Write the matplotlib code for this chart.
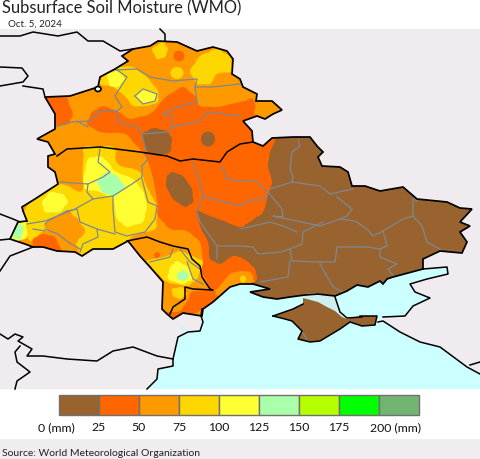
# -*- coding: utf-8 -*-
"""Subsurface soil moisture map, traced in image pixels"""

import matplotlib
matplotlib.use('Agg')
import matplotlib.pyplot as plt
from matplotlib.patches import PathPatch, Polygon, Ellipse, Rectangle
from matplotlib.path import Path

BROWN = '#99632F'
RED = '#FF6600'
ORANGE = '#FF9900'
GOLD = '#FFD700'
YELLOW = '#FFFF33'
PALE = '#AAFFAA'
LIME = '#B5FF00'
GREEN = '#00FF00'
DULL = '#72B572'
LAND = '#EFEBEF'
SEA = '#CCFFFF'
GRAY = '#7F8890'

# colour bar
bar_colors = [BROWN, RED, ORANGE, GOLD, YELLOW, PALE, LIME, GREEN, DULL]
bar_labels = ['25', '50', '75', '100', '125', '150', '175']

# country outline (Belarus, Ukraine, Moldova)
region = [(45, 98), (70, 97), (98, 88), (100, 78), (115, 70), (128, 62), (122, 57), (133, 50),
          (150, 47), (158, 42), (177, 43), (197, 52), (213, 48), (227, 52), (233, 60), (232, 75),
          (240, 80), (243, 88), (257, 95), (256, 102), (272, 102), (282, 111), (273, 115), (265, 120),
          (257, 117), (243, 122), (252, 132), (253, 143), (263, 147), (272, 139), (293, 138), (310, 138),
          (317, 147), (323, 153), (318, 158), (322, 167), (340, 168), (348, 173), (352, 187), (365, 187),
          (380, 192), (403, 188), (417, 200), (447, 203), (460, 209), (472, 210), (460, 223), (470, 227),
          (460, 233), (467, 243), (462, 254), (440, 252), (423, 260), (423, 270), (393, 278), (387, 280),
          (383, 285), (380, 282), (368, 288), (357, 286), (347, 292), (335, 297), (318, 295), (305, 296),
          (290, 298), (277, 300), (263, 298), (250, 293), (270, 290), (253, 285), (240, 285), (230, 288),
          (213, 303), (203, 310), (202, 317), (183, 314), (173, 320), (167, 315), (162, 310), (163, 283),
          (150, 268), (140, 257), (128, 242), (113, 250), (93, 250), (82, 257), (75, 253), (57, 252),
          (43, 248), (33, 248), (25, 245), (10, 240), (18, 223), (27, 222), (23, 212), (22, 208),
          (35, 200), (58, 185), (55, 173), (48, 168), (48, 157), (55, 155), (48, 143), (37, 140),
          (55, 130), (55, 115)]
crimea = [(273, 317), (293, 310), (303, 305), (303, 299), (318, 303), (327, 308), (335, 312), (342, 318),
          (347, 320), (360, 317), (377, 317), (375, 326), (362, 327), (350, 323), (340, 330), (320, 342),
          (310, 343), (298, 340), (302, 332), (292, 322), (285, 320)]
syvash = [(305, 295), (318, 294), (335, 298), (340, 313), (347, 320), (342, 318), (327, 308), (318, 303), (303, 299)]
sea = [(147, 390), (157, 380), (158, 370), (173, 367), (173, 360), (178, 338), (188, 333), (200, 332),
       (203, 323), (201, 317), (203, 310), (213, 303), (230, 288), (240, 285), (253, 285), (270, 290),
       (250, 293), (263, 298), (277, 300), (290, 298), (305, 296), (318, 295), (335, 297), (347, 292),
       (357, 286), (368, 288), (380, 282), (383, 285), (387, 280), (393, 278), (423, 270), (447, 268),
       (448, 275), (427, 280), (410, 285), (415, 293), (430, 299), (413, 307), (405, 317), (383, 318),
       (378, 323), (383, 322), (400, 333), (420, 343), (440, 348), (467, 368), (480, 375), (480, 390)]

# moisture areas, painted in this order over the orange base
red_main = [(87, 125), (92, 113), (103, 107), (117, 112), (130, 120), (150, 115), (167, 97), (183, 88),
            (195, 97), (200, 107), (217, 108), (240, 103), (253, 100), (258, 118), (300, 118), (300, 310),
            (257, 284), (250, 273), (240, 272), (230, 275), (217, 290), (212, 292), (200, 270), (203, 262),
            (200, 243), (187, 232), (170, 230), (158, 217), (157, 200), (152, 175), (147, 160), (140, 150),
            (125, 135), (100, 133)]
red_west = [(45, 96), (65, 96), (73, 115), (68, 125), (55, 126), (53, 113)]
red_budjak = [(192, 293), (213, 290), (218, 300), (200, 312), (187, 318), (175, 324), (166, 314), (180, 312), (187, 303)]
gold_west = [(27, 207), (43, 190), (60, 185), (82, 192), (83, 163), (85, 148), (113, 148), (118, 165),
             (140, 173), (148, 190), (157, 207), (157, 217), (155, 230), (133, 237), (125, 246), (113, 254),
             (93, 254), (80, 260), (77, 247), (63, 238), (45, 232), (30, 242), (22, 220)]
orange_sw = [(45, 225), (67, 212), (78, 220), (85, 233), (72, 247), (50, 235)]
red_sw = [(33, 240), (43, 235), (55, 238), (61, 252), (43, 250), (33, 250)]
yellow_sw = [(12, 222), (25, 220), (27, 238), (12, 244)]
pale_sw = [(10, 237), (18, 225), (24, 228), (20, 240)]
yellow_west = [(42, 203), (50, 193), (63, 195), (68, 203), (60, 213), (45, 213)]
yellow_center = [(83, 180), (88, 160), (100, 157), (108, 163), (115, 172), (133, 180), (143, 192), (147, 207),
                 (143, 223), (127, 228), (117, 220), (113, 200), (100, 193), (85, 190)]
pale_center = [(97, 182), (107, 173), (117, 177), (125, 188), (115, 197), (102, 193)]
gold_top = [(152, 50), (163, 43), (168, 50), (165, 58), (157, 60)]
gold_right = [(190, 72), (200, 57), (217, 50), (230, 58), (232, 72), (217, 75), (210, 85), (197, 85)]
gold_left = [(103, 75), (115, 68), (133, 68), (147, 78), (158, 92), (158, 103), (147, 107), (133, 107),
             (125, 97), (113, 88), (100, 85)]
yellow_left = [(107, 75), (118, 72), (125, 80), (118, 88), (110, 87)]
yellow_loop = [(135, 97), (143, 90), (157, 95), (155, 102), (143, 105)]
gold_moldova = [(147, 262), (167, 257), (180, 252), (193, 257), (203, 263), (197, 280), (187, 287), (167, 283), (153, 270)]
gold_low = [(172, 290), (182, 288), (187, 295), (180, 300), (173, 297)]
yellow_moldova = [(170, 268), (177, 262), (188, 268), (193, 280), (182, 285), (168, 280)]
pale_moldova = [(177, 275), (183, 271), (189, 276), (185, 282), (178, 280)]
brown_belarus = [(142, 135), (153, 129), (167, 132), (172, 140), (170, 153), (157, 157), (148, 153), (143, 143)]
brown_oval = [(172, 173), (183, 177), (192, 190), (193, 203), (185, 208), (173, 200), (166, 187), (167, 177)]
brown_east = [(277, 138), (270, 153), (268, 167), (272, 183), (270, 190), (263, 213), (250, 223), (240, 228),
              (213, 218), (197, 212), (200, 227), (208, 243), (210, 260), (220, 265), (233, 257), (240, 258),
              (247, 262), (255, 270), (257, 280), (250, 287), (250, 320), (480, 320), (480, 130), (290, 130)]

# small round patches: centre x, centre y, width, height
dot_x = [179, 177, 208, 157, 243]
dot_y = [57, 74, 140, 256, 280]
dot_w = [11, 13, 14, 6, 6]
dot_h = [11, 12, 15, 6, 7]
dot_c = [RED, GOLD, BROWN, RED, GOLD]

# internal boundaries
gray_lines = [
    [(115, 71), (137, 70), (150, 78), (173, 82), (197, 80), (195, 88), (213, 88), (240, 85)],
    [(117, 71), (127, 78), (115, 97), (122, 108), (117, 112), (100, 112), (90, 122), (72, 123), (55, 128)],
    [(77, 122), (88, 128)],
    [(117, 113), (118, 123), (137, 128), (142, 135), (167, 133), (172, 128), (172, 117), (163, 115), (177, 108),
     (197, 103), (195, 88)],
    [(172, 128), (200, 122), (207, 113), (240, 117)],
    [(135, 97), (143, 90), (157, 95), (155, 102), (143, 105), (135, 97)],
    [(142, 135), (147, 157)],
    [(100, 150), (98, 163), (110, 173), (103, 178), (88, 185), (60, 183)],
    [(88, 185), (87, 193), (93, 200), (75, 210), (45, 222), (27, 225)],
    [(93, 200), (113, 197), (132, 185), (142, 178), (142, 167), (148, 160)],
    [(113, 197), (113, 210), (115, 233), (127, 237), (145, 233), (155, 220), (157, 207), (148, 203), (142, 180)],
    [(67, 212), (77, 210), (80, 223), (97, 230), (115, 235)],
    [(97, 230), (98, 238), (83, 245), (80, 253)],
    [(45, 225), (48, 222), (67, 212)],
    [(45, 230), (58, 235), (68, 243), (80, 250)],
    [(33, 230), (45, 232)],
    [(192, 163), (200, 183), (203, 197), (197, 213), (200, 223), (217, 247), (217, 260)],
    [(203, 197), (240, 207), (247, 202), (265, 200), (268, 193), (257, 183), (240, 182), (227, 180), (222, 167)],
    [(268, 193), (282, 210), (283, 218), (273, 217), (297, 222), (320, 227), (340, 220), (355, 222), (367, 230),
     (373, 237), (383, 232), (403, 220), (413, 217), (413, 200), (417, 202)],
    [(298, 140), (300, 147), (292, 153), (290, 170), (293, 177), (292, 183), (270, 190)],
    [(292, 183), (320, 187), (330, 195), (353, 190)],
    [(337, 198), (352, 210), (347, 217), (340, 220)],
    [(413, 217), (422, 227), (427, 243), (443, 252)],
    [(383, 232), (387, 247), (380, 250), (367, 248), (337, 248), (335, 263), (320, 263), (292, 262), (290, 250),
     (302, 245), (303, 233), (323, 223)],
    [(290, 250), (280, 253), (258, 255), (253, 248), (240, 247), (217, 247)],
    [(240, 230), (270, 223), (283, 227), (297, 233)],
    [(380, 250), (380, 258), (397, 265), (388, 270), (393, 277)],
    [(320, 265), (333, 288), (343, 293)],
    [(290, 262), (288, 278), (260, 283)],
    [(302, 333), (307, 340)],
    [(173, 250), (170, 258), (150, 263)],
    [(180, 250), (190, 263), (200, 270)],
    [(187, 263), (193, 280), (203, 285)],
]

# borders in black
black_lines = [
    [(57, 157), (67, 150), (100, 148), (140, 153), (167, 157), (180, 162), (193, 160), (220, 163), (227, 153),
     (240, 145), (253, 143)],
    [(127, 242), (147, 238), (160, 243), (173, 247), (188, 250), (192, 260), (200, 267), (202, 278), (210, 290),
     (213, 291), (193, 290), (185, 288), (185, 300), (173, 308), (170, 315)],
    [(0, 37), (20, 37), (33, 33), (58, 37), (77, 33), (88, 42), (103, 42), (120, 52), (133, 50)],
    [(160, 30), (165, 35), (165, 42)],
    [(0, 68), (22, 69), (28, 77), (23, 83), (0, 87)],
    [(23, 87), (43, 90), (45, 98)],
    [(0, 215), (13, 220), (20, 223)],
    [(0, 241), (10, 240)],
    [(33, 248), (28, 250), (10, 257), (0, 272)],
    [(0, 335), (8, 340), (15, 335), (23, 338), (18, 342), (32, 350), (27, 357), (43, 357), (67, 360), (97, 362),
     (113, 352), (133, 348), (157, 357), (173, 360)],
    [(20, 347), (15, 353), (17, 363), (30, 373), (17, 382), (15, 390)],
    [(147, 390), (157, 380), (158, 370), (173, 367), (173, 360), (178, 338), (188, 333), (200, 332), (203, 323),
     (201, 317), (202, 310)],
    [(423, 270), (447, 268), (448, 275), (427, 280), (410, 285), (415, 293), (430, 299), (413, 307), (405, 317),
     (383, 318)],
    [(378, 323), (383, 322), (400, 333), (420, 343), (440, 348), (467, 368), (480, 375)],
    [(470, 366), (480, 363)],
    [(335, 298), (340, 313), (347, 319), (362, 318)],
    [(273, 317), (285, 320), (292, 322), (302, 332), (298, 340), (310, 343), (320, 342), (340, 330), (350, 323),
     (362, 327), (375, 326), (377, 317), (360, 317)],
    [(273, 317), (293, 310), (303, 305)],
]


def smooth_path(pts):
    # closed quadratic curve that goes through the traced points
    n = len(pts)
    mids = [((pts[i][0] + pts[(i + 1) % n][0]) / 2, (pts[i][1] + pts[(i + 1) % n][1]) / 2) for i in range(n)]
    verts = [mids[-1]]
    codes = [Path.MOVETO]
    for i in range(n):
        cx = 2 * pts[i][0] - (mids[i - 1][0] + mids[i][0]) / 2
        cy = 2 * pts[i][1] - (mids[i - 1][1] + mids[i][1]) / 2
        verts += [(cx, cy), mids[i]]
        codes += [Path.CURVE3, Path.CURVE3]
    return Path(verts, codes)


plt.rcParams['font.family'] = ['Lato', 'DejaVu Sans']

fig = plt.figure(figsize=(4.8, 4.6), dpi=100)
ax = fig.add_axes([0, 0, 1, 1])
ax.set_xlim(0, 480)
ax.set_ylim(460, 0)
ax.axis('off')

# backgrounds
ax.add_patch(Rectangle((0, 30), 480, 360, fc=LAND, ec='none', zorder=1))
ax.add_patch(Rectangle((0, 440), 480, 20, fc='#EFEDF0', ec='none', zorder=1))
ax.add_patch(Polygon(sea, closed=True, fc=SEA, ec='none', zorder=2))
ax.add_patch(Ellipse((183, 330), 5, 5, fc='#CCF5F5', ec='none', zorder=2))

base = Polygon(region, closed=True, fc=ORANGE, ec='none', zorder=3)
ax.add_patch(base)

# moisture layers, clipped to the outline
sharp_layers = [(red_main, RED), (brown_east, BROWN)]
soft_layers = [(red_west, RED), (red_budjak, RED), (gold_west, GOLD), (orange_sw, ORANGE), (red_sw, RED),
               (yellow_sw, YELLOW), (pale_sw, PALE), (yellow_west, YELLOW), (yellow_center, YELLOW),
               (pale_center, PALE), (gold_top, GOLD), (gold_right, GOLD), (gold_left, GOLD),
               (yellow_left, YELLOW), (yellow_loop, YELLOW), (gold_moldova, GOLD), (gold_low, GOLD),
               (yellow_moldova, YELLOW), (pale_moldova, PALE), (brown_belarus, BROWN), (brown_oval, BROWN)]
for pts, c in sharp_layers:
    p = PathPatch(smooth_path(pts), fc=c, ec='none', zorder=4)
    ax.add_patch(p)
    p.set_clip_path(base)
for pts, c in soft_layers:
    p = PathPatch(smooth_path(pts), fc=c, ec='none', zorder=5)
    ax.add_patch(p)
    p.set_clip_path(base)
for x, y, w, h, c in zip(dot_x, dot_y, dot_w, dot_h, dot_c):
    p = Ellipse((x, y), w, h, fc=c, ec='none', zorder=6)
    ax.add_patch(p)
    p.set_clip_path(base)

ax.add_patch(Polygon(syvash, closed=True, fc='#CCF0F0', ec='none', zorder=6))
ax.add_patch(Polygon(crimea, closed=True, fc=BROWN, ec='none', zorder=6))

for line in gray_lines:
    ax.plot(*zip(*line), color=GRAY, lw=0.9, zorder=7, solid_joinstyle='round')

ax.add_patch(Polygon(region, closed=True, fc='none', ec='black', lw=1.25, zorder=8))
for line in black_lines:
    ax.plot(*zip(*line), color='black', lw=1.1, zorder=8, solid_joinstyle='round')
ax.add_patch(Ellipse((98, 90), 6, 5, fc='white', ec='black', lw=1.25, zorder=9))

# colour bar
for i, c in enumerate(bar_colors):
    ax.add_patch(Rectangle((59 + i * 40, 396), 40, 20, fc=c, ec='#707070', lw=1, zorder=3))
for i, lab in enumerate(bar_labels):
    ax.text(99 + i * 40, 428, lab, ha='center', va='center', fontsize=8.8, color='#111111')
ax.text(56, 428, '0 (mm)', ha='center', va='center', fontsize=8.8, color='#111111')
ax.text(396, 428, '200 (mm)', ha='center', va='center', fontsize=8.8, color='#111111')

ax.text(2, 13, 'Subsurface Soil Moisture (WMO)', ha='left', va='baseline', fontsize=11.9, color='#222222')
ax.text(8, 27, 'Oct. 5, 2024', ha='left', va='baseline', fontsize=7, color='#222222')
ax.text(2, 456, 'Source: World Meteorological Organization', ha='left', va='baseline', fontsize=7.5, color='#222222')

fig.savefig('out.png', dpi=100)
